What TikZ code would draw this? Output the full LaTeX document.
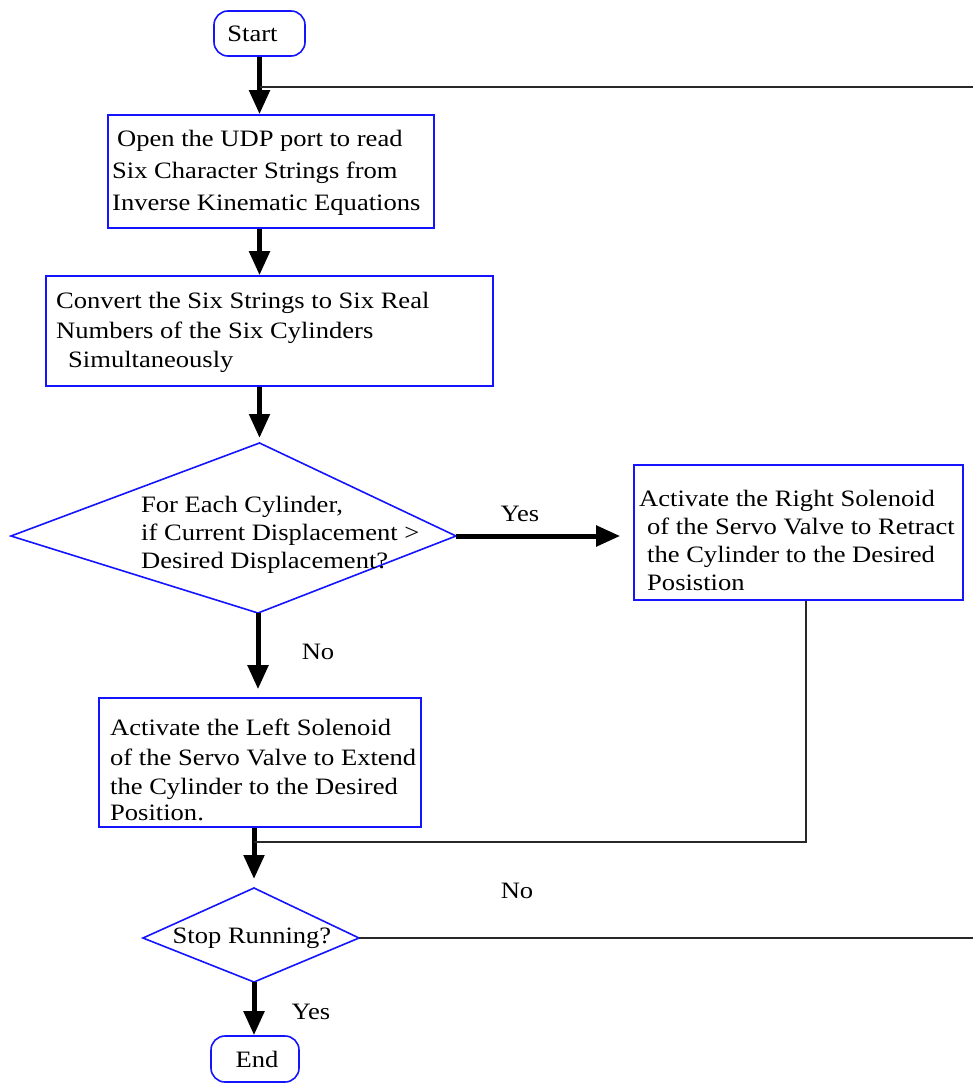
\documentclass[tikz,border=0pt]{standalone}
\usepackage{fontspec}
\setmainfont{Liberation Serif}[FakeStretch=1.13]
\usetikzlibrary{arrows.meta}
\definecolor{bord}{RGB}{20,20,255}
\definecolor{wirec}{RGB}{40,40,40}
\begin{document}
\begin{tikzpicture}[x=1pt,y=-1pt,
  font=\fontsize{23.5}{29}\selectfont,
  blk/.style={draw=bord, line width=1.6pt, inner sep=0pt},
  term/.style={draw=bord, line width=1.6pt, rounded corners=14pt, inner sep=0pt},
  txt/.style={inner sep=0pt, align=left, anchor=west},
  lbl/.style={inner sep=0pt},
  flow/.style={line width=5pt, -{Triangle[width=20pt,length=24pt]}},
  wire/.style={line width=1.6pt, draw=wirec}]
\useasboundingbox (0,0) rectangle (973,1083);

% terminals and boxes
\node[term, minimum width=91pt, minimum height=45pt] (start) at (259.5,33.5) {Start\hspace*{14pt}};
\node[blk, minimum width=326pt, minimum height=113pt] (b1) at (271,171.5) {};
\node[blk, minimum width=447pt, minimum height=110pt] (b2) at (269.5,331) {};
\node[blk, minimum width=329pt, minimum height=135pt] (b3) at (798.5,532.5) {};
\node[blk, minimum width=322pt, minimum height=129pt] (b4) at (260,762.5) {};
\node[term, minimum width=88pt, minimum height=46pt] (end) at (255,1059) {\hspace*{4pt}End};

% decision diamonds
\coordinate (d1t) at (259.5,443);
\coordinate (d1l) at (11,536);
\coordinate (d1r) at (456,536);
\coordinate (d1b) at (258,613);
\draw[draw=bord, line width=1.6pt] (d1t) -- (d1r) -- (d1b) -- (d1l) -- cycle;
\coordinate (d2t) at (254,888);
\coordinate (d2l) at (143,938);
\coordinate (d2r) at (359,938);
\coordinate (d2b) at (254,982);
\draw[draw=bord, line width=1.6pt] (d2t) -- (d2r) -- (d2b) -- (d2l) -- cycle;

% texts
\node[txt, font=\fontsize{23.5}{32}\selectfont] (t1) at (112,172.5)
  {\hspace*{5pt}Open the UDP port to read\\Six Character Strings from\\Inverse Kinematic Equations};
\node[txt, font=\fontsize{23.5}{29.5}\selectfont] (t2) at (56,332.5)
  {Convert the Six Strings to Six Real\\Numbers of the Six Cylinders\\\hspace*{12pt}Simultaneously};
\node[txt, font=\fontsize{23.5}{28}\selectfont] (q1) at (141,535)
  {For Each Cylinder,\\if Current Displacement >\\Desired Displacement?};
\node[txt, font=\fontsize{23.5}{28}\selectfont] (t3) at (639,540)
  {Activate the Right Solenoid\\\hspace*{8pt}of the Servo Valve to Retract\\\hspace*{8pt}the Cylinder to the Desired\\\hspace*{8pt}Posistion};
\node[txt, font=\fontsize{23.5}{29.5}\selectfont] (t4) at (110,770)
  {Activate the Left Solenoid\\of the Servo Valve to Extend\\the Cylinder to the Desired\\[-4pt]Position.};
\node[lbl] (q2) at (252,938) {Stop Running?};

% labels
\node[lbl] (yes1) at (520,514) {Yes};
\node[lbl] (no1) at (318,652) {No};
\node[lbl] (no2) at (517,891) {No};
\node[lbl] (yes2) at (311,1012) {Yes};

% connectors
\coordinate (j1) at (start.south |- 0,87);
\coordinate (rt) at (973,87);
\coordinate (rb) at (973,938);
\draw[flow] (start.south) -- (start.south |- b1.north);
\draw[wire] (j1) -- (rt);
\draw[flow] (start.south |- b1.south) -- (start.south |- b2.north);
\draw[flow, shorten >=5pt] (start.south |- b2.south) -- (d1t);
\draw[flow, shorten >=13pt] (d1r) -- (d1r -| b3.west);
\draw[flow, shorten >=8pt] (d1b) -- (d1b |- b4.north);
\coordinate (j2) at (d2t |- 0,842);
\draw[flow, shorten >=9pt] (d2t |- b4.south) -- (d2t);
\draw[wire] ([xshift=7.5pt]b3.south) |- (j2);
\draw[wire] (d2r) -- (rb);
\draw[flow] (d2b) -- (d2b |- end.north);
\end{tikzpicture}
\end{document}
